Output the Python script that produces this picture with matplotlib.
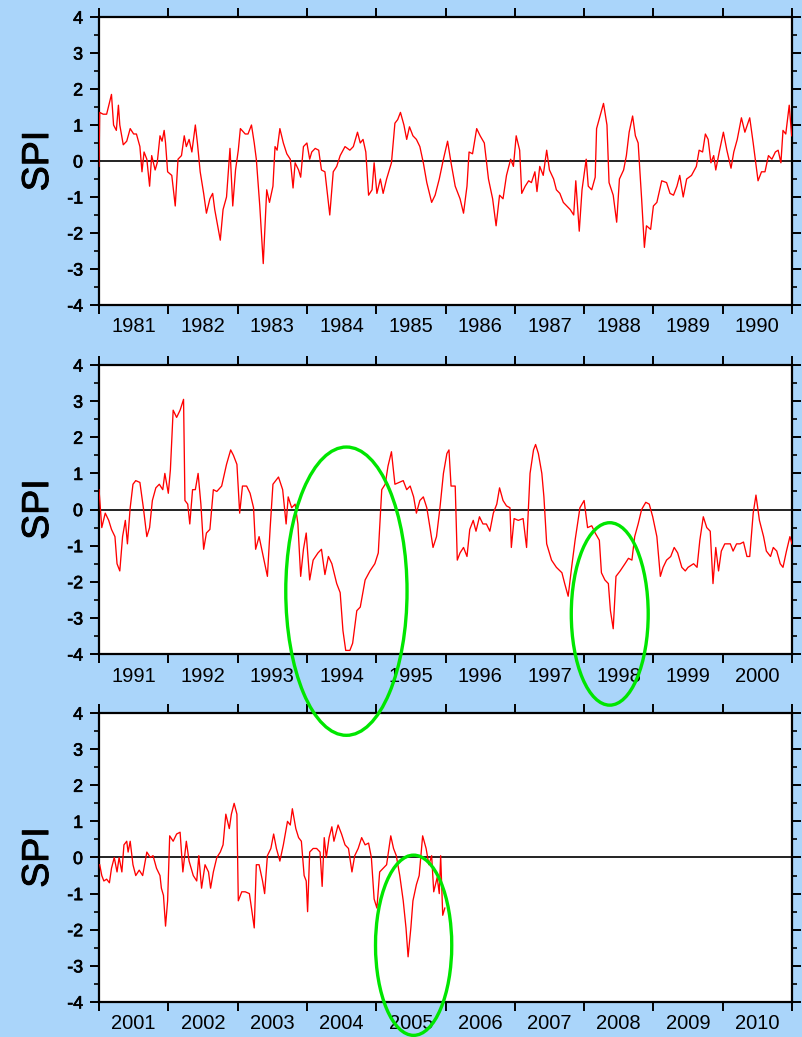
import numpy as np
import matplotlib.pyplot as plt
import matplotlib.patheffects as pe
from matplotlib.patches import Ellipse
from matplotlib.ticker import MultipleLocator, FixedLocator, FixedFormatter, NullFormatter

plt.rcParams['font.family'] = ['Liberation Sans', 'DejaVu Sans']
plt.rcParams['axes.unicode_minus'] = False

BG = '#aad5fa'

# SPI series (fractional year, SPI)
t1 = [1981.00, 1981.01, 1981.06, 1981.11, 1981.16, 1981.18, 1981.21, 1981.25, 1981.28, 1981.30,
      1981.35, 1981.40, 1981.45, 1981.50, 1981.54, 1981.59, 1981.62, 1981.65, 1981.69, 1981.73,
      1981.76, 1981.81, 1981.84, 1981.88, 1981.91, 1981.94, 1981.96, 1981.99, 1982.05, 1982.10,
      1982.14, 1982.19, 1982.23, 1982.26, 1982.30, 1982.34, 1982.39, 1982.42, 1982.46, 1982.51,
      1982.55, 1982.60, 1982.64, 1982.67, 1982.75, 1982.79, 1982.84, 1982.89, 1982.93, 1982.97,
      1983.01, 1983.04, 1983.11, 1983.15, 1983.20, 1983.24, 1983.27, 1983.32, 1983.37, 1983.42,
      1983.46, 1983.51, 1983.54, 1983.57, 1983.61, 1983.66, 1983.71, 1983.76, 1983.80, 1983.83,
      1983.88, 1983.91, 1983.95, 1984.00, 1984.04, 1984.07, 1984.12, 1984.17, 1984.21, 1984.26,
      1984.33, 1984.38, 1984.43, 1984.48, 1984.55, 1984.62, 1984.67, 1984.73, 1984.77, 1984.81,
      1984.85, 1984.89, 1984.94, 1984.97, 1985.01, 1985.06, 1985.10, 1985.15, 1985.22, 1985.27,
      1985.31, 1985.35, 1985.40, 1985.44, 1985.48, 1985.53, 1985.58, 1985.63, 1985.68, 1985.73,
      1985.80, 1985.85, 1985.91, 1985.97, 1986.03, 1986.08, 1986.14, 1986.21, 1986.26, 1986.31,
      1986.34, 1986.39, 1986.45, 1986.50, 1986.56, 1986.62, 1986.68, 1986.73, 1986.78, 1986.83,
      1986.88, 1986.94, 1986.98, 1987.02, 1987.07, 1987.10, 1987.15, 1987.20, 1987.24, 1987.29,
      1987.32, 1987.36, 1987.41, 1987.46, 1987.50, 1987.56, 1987.60, 1987.65, 1987.70, 1987.75,
      1987.80, 1987.85, 1987.88, 1987.93, 1987.97, 1988.03, 1988.06, 1988.11, 1988.16, 1988.18,
      1988.23, 1988.28, 1988.33, 1988.36, 1988.42, 1988.47, 1988.51, 1988.57, 1988.61, 1988.65,
      1988.70, 1988.74, 1988.78, 1988.83, 1988.87, 1988.90, 1988.96, 1989.00, 1989.05, 1989.12,
      1989.19, 1989.24, 1989.29, 1989.34, 1989.38, 1989.43, 1989.48, 1989.55, 1989.62, 1989.66,
      1989.71, 1989.75, 1989.79, 1989.83, 1989.87, 1989.90, 1989.95, 1990.01, 1990.06, 1990.12,
      1990.16, 1990.21, 1990.27, 1990.32, 1990.39, 1990.44, 1990.51, 1990.56, 1990.61, 1990.66,
      1990.71, 1990.76, 1990.80, 1990.84, 1990.87, 1990.91, 1990.96, 1990.995]
s1 = [-0.15, 1.35, 1.3, 1.3, 1.7, 1.85, 1.0, 0.85, 1.55, 1.0,
      0.45, 0.55, 0.9, 0.75, 0.75, 0.4, -0.3, 0.25, 0.05, -0.7,
      0.15, -0.25, -0.05, 0.7, 0.55, 0.85, 0.5, -0.3, -0.4, -1.25,
      0.05, 0.15, 0.7, 0.4, 0.6, 0.25, 1.0, 0.5, -0.3, -0.9,
      -1.45, -1.05, -0.9, -1.35, -2.2, -1.35, -1.0, 0.35, -1.25, -0.25,
      0.3, 0.9, 0.75, 0.75, 1.0, 0.5, 0.05, -1.25, -2.85, -0.8,
      -1.15, -0.7, 0.4, 0.3, 0.9, 0.5, 0.2, 0.05, -0.75, -0.05,
      -0.25, -0.45, 0.4, 0.5, 0.05, 0.25, 0.35, 0.3, -0.25, -0.3,
      -1.5, -0.3, -0.15, 0.15, 0.4, 0.3, 0.4, 0.8, 0.5, 0.6,
      0.25, -0.95, -0.8, -0.05, -0.9, -0.5, -0.9, -0.5, -0.05, 1.05,
      1.15, 1.35, 1.0, 0.6, 0.95, 0.7, 0.6, 0.4, -0.05, -0.6,
      -1.15, -0.95, -0.5, 0.05, 0.55, -0.05, -0.7, -1.05, -1.45, -0.7,
      0.25, 0.2, 0.9, 0.7, 0.5, -0.5, -1.05, -1.8, -0.95, -1.05,
      -0.4, 0.05, -0.15, 0.7, 0.3, -0.9, -0.7, -0.55, -0.6, -0.3,
      -0.85, -0.15, -0.4, 0.3, -0.25, -0.5, -0.8, -0.9, -1.15, -1.25,
      -1.35, -1.5, -0.55, -1.95, -0.8, 0.05, -0.7, -0.8, -0.45, 0.9,
      1.25, 1.6, 1.0, -0.6, -0.95, -1.7, -0.5, -0.25, 0.15, 0.8,
      1.25, 0.7, 0.5, -1.05, -2.4, -1.8, -1.9, -1.25, -1.15, -0.55,
      -0.6, -0.9, -0.95, -0.7, -0.4, -1.0, -0.5, -0.4, -0.15, 0.3,
      0.25, 0.75, 0.6, -0.05, 0.15, -0.25, 0.25, 0.8, 0.3, -0.2,
      0.25, 0.6, 1.2, 0.8, 1.2, 0.5, -0.55, -0.3, -0.3, 0.15,
      0.05, 0.25, 0.3, -0.05, 0.85, 0.75, 1.55, 0.7]

t2 = [1991.00, 1991.04, 1991.09, 1991.14, 1991.18, 1991.23, 1991.26, 1991.30, 1991.34, 1991.38,
      1991.41, 1991.45, 1991.49, 1991.53, 1991.59, 1991.64, 1991.69, 1991.73, 1991.77, 1991.82,
      1991.87, 1991.92, 1991.95, 1992.00, 1992.03, 1992.07, 1992.12, 1992.17, 1992.22, 1992.24,
      1992.28, 1992.31, 1992.35, 1992.39, 1992.43, 1992.47, 1992.51, 1992.55, 1992.60, 1992.65,
      1992.70, 1992.77, 1992.84, 1992.90, 1992.94, 1992.99, 1993.03, 1993.07, 1993.13, 1993.18,
      1993.23, 1993.26, 1993.31, 1993.37, 1993.43, 1993.47, 1993.51, 1993.59, 1993.65, 1993.70,
      1993.73, 1993.78, 1993.83, 1993.87, 1993.91, 1993.95, 1993.99, 1994.04, 1994.09, 1994.16,
      1994.21, 1994.26, 1994.31, 1994.36, 1994.43, 1994.48, 1994.52, 1994.56, 1994.62, 1994.66,
      1994.72, 1994.77, 1994.84, 1994.91, 1994.98, 1995.03, 1995.08, 1995.13, 1995.17, 1995.22,
      1995.27, 1995.39, 1995.44, 1995.49, 1995.54, 1995.58, 1995.63, 1995.68, 1995.73, 1995.78,
      1995.82, 1995.87, 1995.92, 1995.97, 1996.02, 1996.05, 1996.08, 1996.14, 1996.17, 1996.21,
      1996.26, 1996.31, 1996.35, 1996.40, 1996.44, 1996.49, 1996.54, 1996.59, 1996.64, 1996.69,
      1996.74, 1996.78, 1996.83, 1996.88, 1996.93, 1996.95, 1996.99, 1997.05, 1997.12, 1997.17,
      1997.22, 1997.27, 1997.30, 1997.34, 1997.39, 1997.42, 1997.46, 1997.53, 1997.60, 1997.68,
      1997.72, 1997.77, 1997.82, 1997.87, 1997.94, 1998.00, 1998.05, 1998.11, 1998.16, 1998.22,
      1998.25, 1998.30, 1998.35, 1998.38, 1998.42, 1998.46, 1998.52, 1998.59, 1998.64, 1998.69,
      1998.73, 1998.78, 1998.83, 1998.89, 1998.94, 1998.99, 1999.05, 1999.10, 1999.14, 1999.19,
      1999.25, 1999.30, 1999.35, 1999.41, 1999.46, 1999.50, 1999.58, 1999.63, 1999.67, 1999.72,
      1999.77, 1999.82, 1999.86, 1999.90, 1999.94, 1999.98, 2000.03, 2000.11, 2000.15, 2000.20,
      2000.25, 2000.30, 2000.35, 2000.39, 2000.44, 2000.48, 2000.53, 2000.59, 2000.63, 2000.69,
      2000.73, 2000.78, 2000.83, 2000.87, 2000.92, 2000.97, 2001.00]
s2 = [0.55, -0.5, -0.1, -0.3, -0.55, -0.75, -1.5, -1.7, -0.75, -0.3,
      -0.95, 0.05, 0.7, 0.8, 0.75, 0.05, -0.75, -0.5, 0.25, 0.6,
      0.7, 0.55, 1.0, 0.45, 1.1, 2.75, 2.55, 2.75, 3.05, 0.25,
      0.15, -0.4, 0.55, 0.55, 1.0, 0.15, -1.1, -0.65, -0.55, 0.55,
      0.5, 0.65, 1.25, 1.65, 1.5, 1.25, -0.1, 0.65, 0.65, 0.45,
      0.05, -1.1, -0.75, -1.3, -1.85, -0.5, 0.7, 0.9, 0.55, -0.4,
      0.35, 0.05, 0.15, -0.4, -1.85, -1.1, -0.65, -1.95, -1.4, -1.2,
      -1.1, -1.8, -1.3, -1.5, -2.05, -2.3, -3.35, -3.9, -3.9, -3.7,
      -2.8, -2.7, -1.95, -1.7, -1.5, -1.2, 0.55, 0.7, 1.2, 1.6,
      0.7, 0.8, 0.55, 0.65, 0.35, -0.1, 0.25, 0.35, 0.05, -0.55,
      -1.05, -0.75, 0.05, 1.0, 1.55, 1.65, 0.65, 0.65, -1.4, -1.2,
      -1.05, -1.3, -0.55, -0.3, -0.6, -0.2, -0.4, -0.4, -0.6, -0.1,
      0.15, 0.6, 0.25, 0.1, 0.05, -1.05, -0.25, -0.3, -0.25, -1.05,
      1.0, 1.65, 1.8, 1.55, 1.0, 0.35, -0.95, -1.4, -1.6, -1.75,
      -2.05, -2.4, -1.6, -0.85, 0.05, 0.25, -0.5, -0.45, -0.65, -0.85,
      -1.75, -1.95, -2.05, -2.8, -3.3, -1.85, -1.7, -1.5, -1.35, -1.4,
      -0.75, -0.4, 0.0, 0.2, 0.15, -0.2, -0.75, -1.85, -1.6, -1.4,
      -1.3, -1.05, -1.2, -1.6, -1.7, -1.6, -1.5, -1.6, -0.85, -0.2,
      -0.5, -0.6, -2.05, -1.05, -1.7, -1.15, -0.95, -0.95, -1.15, -0.95,
      -0.95, -0.9, -1.3, -1.3, -0.1, 0.4, -0.3, -0.75, -1.15, -1.3,
      -1.05, -1.15, -1.5, -1.6, -1.15, -0.75, -0.95]

t3 = [2001.01, 2001.04, 2001.07, 2001.11, 2001.15, 2001.18, 2001.22, 2001.26, 2001.29, 2001.33,
      2001.36, 2001.40, 2001.42, 2001.45, 2001.49, 2001.53, 2001.58, 2001.63, 2001.69, 2001.74,
      2001.78, 2001.83, 2001.88, 2001.90, 2001.93, 2001.96, 2001.99, 2002.02, 2002.07, 2002.12,
      2002.17, 2002.21, 2002.26, 2002.30, 2002.36, 2002.41, 2002.44, 2002.48, 2002.53, 2002.58,
      2002.61, 2002.65, 2002.70, 2002.75, 2002.79, 2002.83, 2002.88, 2002.91, 2002.95, 2002.99,
      2003.01, 2003.06, 2003.11, 2003.17, 2003.20, 2003.24, 2003.27, 2003.31, 2003.36, 2003.39,
      2003.43, 2003.48, 2003.52, 2003.56, 2003.61, 2003.66, 2003.72, 2003.76, 2003.79, 2003.84,
      2003.88, 2003.92, 2003.96, 2003.99, 2004.01, 2004.04, 2004.09, 2004.14, 2004.19, 2004.22,
      2004.25, 2004.28, 2004.32, 2004.36, 2004.39, 2004.45, 2004.50, 2004.55, 2004.60, 2004.65,
      2004.69, 2004.74, 2004.79, 2004.84, 2004.89, 2004.93, 2004.97, 2005.01, 2005.05, 2005.10,
      2005.15, 2005.21, 2005.25, 2005.29, 2005.34, 2005.39, 2005.43, 2005.46, 2005.50, 2005.53,
      2005.58, 2005.62, 2005.67, 2005.72, 2005.76, 2005.80, 2005.83, 2005.88, 2005.91, 2005.93,
      2005.96, 2005.99]
s3 = [-0.2, -0.5, -0.65, -0.6, -0.7, -0.3, 0.0, -0.4, 0.0, -0.4,
      0.35, 0.45, 0.15, 0.45, -0.2, -0.5, -0.35, -0.5, 0.15, 0.0,
      0.05, -0.3, -0.5, -0.85, -1.05, -1.9, -1.2, 0.6, 0.45, 0.65,
      0.7, -0.4, 0.45, -0.1, -0.5, -0.65, 0.05, -0.85, -0.2, -0.4,
      -0.85, -0.4, 0.0, 0.15, 0.35, 1.2, 0.8, 1.2, 1.5, 1.2,
      -1.2, -0.95, -0.95, -1.0, -1.4, -1.95, -0.2, -0.2, -0.65, -1.0,
      0.05, 0.25, 0.65, 0.25, -0.1, 0.35, 1.0, 0.9, 1.35, 0.8,
      0.55, 0.45, -0.5, -0.65, -1.5, 0.15, 0.25, 0.25, 0.15, -0.8,
      0.55, 0.0, 0.55, 0.85, 0.45, 0.9, 0.65, 0.35, 0.25, -0.4,
      0.05, 0.25, 0.55, 0.35, 0.4, 0.0, -1.15, -1.4, -0.4, -0.3,
      -0.2, 0.6, 0.25, 0.05, -0.5, -1.2, -1.95, -2.75, -1.95, -1.2,
      -0.75, -0.5, 0.6, 0.25, -0.2, 0.05, -0.95, -0.55, -1.0, 0.05,
      -1.6, -1.4]

start_years = [1981, 1991, 2001]

# highlighted drought episodes: (panel, centre year, centre SPI, width yr, height SPI)
circles = [(1, 1994.57, -2.26, 1.75, 7.98),
           (1, 1998.37, -2.89, 1.11, 5.05),
           (2, 2005.54, -2.43, 1.10, 4.99)]

fig = plt.figure(figsize=(8.03, 10.37), dpi=100, facecolor=BG)
rects = [[0.1233, 0.7059, 0.8630, 0.2777],
         [0.1233, 0.3693, 0.8630, 0.2787],
         [0.1233, 0.0338, 0.8630, 0.2786]]

# slightly heavier text, like the original raster labels
heavy = [pe.withStroke(linewidth=0.7, foreground='black')]

axes = []
for rect, t, s, y0 in zip(rects, [t1, t2, t3], [s1, s2, s3], start_years):
    ax = fig.add_axes(rect)
    ax.set_facecolor('white')
    ax.plot(t, s, color='#ff0000', lw=0.95, zorder=3)
    ax.axhline(0, color='#111111', lw=1.3, zorder=2)
    ax.set_xlim(y0, y0 + 10)
    ax.set_ylim(-4, 4)

    years = np.arange(y0, y0 + 10)
    ax.xaxis.set_major_locator(MultipleLocator(1))
    ax.xaxis.set_major_formatter(NullFormatter())
    ax.xaxis.set_minor_locator(FixedLocator(years + 0.5))
    ax.xaxis.set_minor_formatter(FixedFormatter([str(y) for y in years]))
    ax.tick_params(axis='x', which='major', direction='out', length=6.5, width=1.4,
                   top=True, bottom=True)
    ax.tick_params(axis='x', which='minor', length=0, pad=9, labelsize=14.5)

    ax.yaxis.set_major_locator(MultipleLocator(1))
    ax.yaxis.set_minor_locator(MultipleLocator(0.5))
    ax.tick_params(axis='y', which='major', direction='out', length=6.5, width=1.4,
                   left=True, right=True, pad=5, labelsize=12.8)
    ax.tick_params(axis='y', which='minor', direction='out', length=3.6, width=1.2,
                   left=True, right=True)
    for sp in ax.spines.values():
        sp.set_linewidth(1.6)

    ax.set_ylabel('SPI', fontsize=27, path_effects=heavy)
    ax.yaxis.set_label_coords(-0.062, 0.5)
    fig.canvas.draw()
    for lab in ax.get_yticklabels():
        lab.set_path_effects([pe.withStroke(linewidth=0.5, foreground='black')])
    axes.append(ax)

for idx, cx, cy, w, h in circles:
    e = Ellipse((cx, cy), w, h, fill=False, edgecolor='#00e600', lw=2.4,
                transform=axes[idx].transData, clip_on=False, zorder=10)
    fig.add_artist(e)

fig.savefig('out.png', dpi=100, facecolor=BG)
